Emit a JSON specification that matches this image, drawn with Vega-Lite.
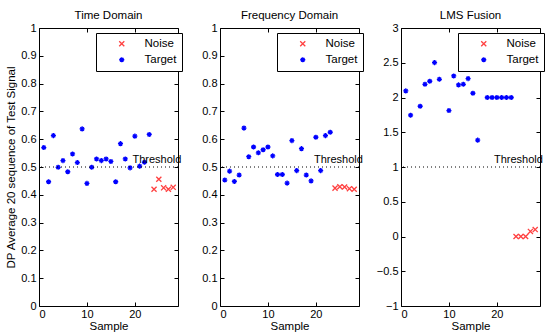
{
  "$schema": "https://vega.github.io/schema/vega-lite/v6.json",
  "padding": {"left": 5, "top": 9, "right": 0, "bottom": 0},
  "spacing": 42,
  "bounds": "flush",
  "background": "white",
  "config": {
    "font": "Liberation Sans",
    "view": {"stroke": "black", "strokeWidth": 1},
    "axis": {"grid": false, "domain": false, "tickColor": "black", "tickSize": -4, "labelPadding": 7, "labelFontSize": 11, "labelColor": "black", "titleFontSize": 11.5, "titleFontWeight": "normal", "titleColor": "black", "labelFont": "Liberation Sans", "titleFont": "Liberation Sans"},
    "axisBottom": {"labelPadding": 6, "titlePadding": 1},
    "title": {"fontSize": 11.5, "fontWeight": "normal", "font": "Liberation Sans", "color": "black", "offset": 1},
    "legend": {"orient": "none", "legendX": 57, "legendY": 5, "strokeColor": "black", "fillColor": "white", "padding": 5, "symbolOffset": 15, "labelOffset": 17, "labelFontSize": 11.5, "labelColor": "black", "rowPadding": 3, "symbolSize": 26, "symbolStrokeWidth": 1.3, "title": null}
  },
  "datasets": {
    "pts": [
      {"panel": "Time Domain", "x": 1, "y": 0.570, "type": "Target"},
      {"panel": "Time Domain", "x": 2, "y": 0.447, "type": "Target"},
      {"panel": "Time Domain", "x": 3, "y": 0.613, "type": "Target"},
      {"panel": "Time Domain", "x": 4, "y": 0.499, "type": "Target"},
      {"panel": "Time Domain", "x": 5, "y": 0.523, "type": "Target"},
      {"panel": "Time Domain", "x": 6, "y": 0.483, "type": "Target"},
      {"panel": "Time Domain", "x": 7, "y": 0.547, "type": "Target"},
      {"panel": "Time Domain", "x": 8, "y": 0.516, "type": "Target"},
      {"panel": "Time Domain", "x": 9, "y": 0.637, "type": "Target"},
      {"panel": "Time Domain", "x": 10, "y": 0.441, "type": "Target"},
      {"panel": "Time Domain", "x": 11, "y": 0.499, "type": "Target"},
      {"panel": "Time Domain", "x": 12, "y": 0.529, "type": "Target"},
      {"panel": "Time Domain", "x": 13, "y": 0.523, "type": "Target"},
      {"panel": "Time Domain", "x": 14, "y": 0.529, "type": "Target"},
      {"panel": "Time Domain", "x": 15, "y": 0.520, "type": "Target"},
      {"panel": "Time Domain", "x": 16, "y": 0.447, "type": "Target"},
      {"panel": "Time Domain", "x": 17, "y": 0.584, "type": "Target"},
      {"panel": "Time Domain", "x": 18, "y": 0.529, "type": "Target"},
      {"panel": "Time Domain", "x": 19, "y": 0.497, "type": "Target"},
      {"panel": "Time Domain", "x": 20, "y": 0.611, "type": "Target"},
      {"panel": "Time Domain", "x": 21, "y": 0.503, "type": "Target"},
      {"panel": "Time Domain", "x": 22, "y": 0.517, "type": "Target"},
      {"panel": "Time Domain", "x": 23, "y": 0.617, "type": "Target"},
      {"panel": "Time Domain", "x": 24, "y": 0.420, "type": "Noise"},
      {"panel": "Time Domain", "x": 25, "y": 0.456, "type": "Noise"},
      {"panel": "Time Domain", "x": 26, "y": 0.425, "type": "Noise"},
      {"panel": "Time Domain", "x": 27, "y": 0.420, "type": "Noise"},
      {"panel": "Time Domain", "x": 28, "y": 0.427, "type": "Noise"},
      {"panel": "Frequency Domain", "x": 1, "y": 0.453, "type": "Target"},
      {"panel": "Frequency Domain", "x": 2, "y": 0.485, "type": "Target"},
      {"panel": "Frequency Domain", "x": 3, "y": 0.448, "type": "Target"},
      {"panel": "Frequency Domain", "x": 4, "y": 0.471, "type": "Target"},
      {"panel": "Frequency Domain", "x": 5, "y": 0.640, "type": "Target"},
      {"panel": "Frequency Domain", "x": 6, "y": 0.537, "type": "Target"},
      {"panel": "Frequency Domain", "x": 7, "y": 0.572, "type": "Target"},
      {"panel": "Frequency Domain", "x": 8, "y": 0.551, "type": "Target"},
      {"panel": "Frequency Domain", "x": 9, "y": 0.562, "type": "Target"},
      {"panel": "Frequency Domain", "x": 10, "y": 0.572, "type": "Target"},
      {"panel": "Frequency Domain", "x": 11, "y": 0.540, "type": "Target"},
      {"panel": "Frequency Domain", "x": 12, "y": 0.473, "type": "Target"},
      {"panel": "Frequency Domain", "x": 13, "y": 0.473, "type": "Target"},
      {"panel": "Frequency Domain", "x": 14, "y": 0.442, "type": "Target"},
      {"panel": "Frequency Domain", "x": 15, "y": 0.595, "type": "Target"},
      {"panel": "Frequency Domain", "x": 16, "y": 0.487, "type": "Target"},
      {"panel": "Frequency Domain", "x": 17, "y": 0.566, "type": "Target"},
      {"panel": "Frequency Domain", "x": 18, "y": 0.471, "type": "Target"},
      {"panel": "Frequency Domain", "x": 19, "y": 0.450, "type": "Target"},
      {"panel": "Frequency Domain", "x": 20, "y": 0.607, "type": "Target"},
      {"panel": "Frequency Domain", "x": 21, "y": 0.487, "type": "Target"},
      {"panel": "Frequency Domain", "x": 22, "y": 0.613, "type": "Target"},
      {"panel": "Frequency Domain", "x": 23, "y": 0.625, "type": "Target"},
      {"panel": "Frequency Domain", "x": 24, "y": 0.424, "type": "Noise"},
      {"panel": "Frequency Domain", "x": 25, "y": 0.429, "type": "Noise"},
      {"panel": "Frequency Domain", "x": 26, "y": 0.428, "type": "Noise"},
      {"panel": "Frequency Domain", "x": 27, "y": 0.422, "type": "Noise"},
      {"panel": "Frequency Domain", "x": 28, "y": 0.420, "type": "Noise"},
      {"panel": "LMS Fusion", "x": 1, "y": 2.095, "type": "Target"},
      {"panel": "LMS Fusion", "x": 2, "y": 1.745, "type": "Target"},
      {"panel": "LMS Fusion", "x": 4, "y": 1.874, "type": "Target"},
      {"panel": "LMS Fusion", "x": 5, "y": 2.190, "type": "Target"},
      {"panel": "LMS Fusion", "x": 6, "y": 2.234, "type": "Target"},
      {"panel": "LMS Fusion", "x": 7, "y": 2.502, "type": "Target"},
      {"panel": "LMS Fusion", "x": 8, "y": 2.262, "type": "Target"},
      {"panel": "LMS Fusion", "x": 10, "y": 1.812, "type": "Target"},
      {"panel": "LMS Fusion", "x": 11, "y": 2.310, "type": "Target"},
      {"panel": "LMS Fusion", "x": 12, "y": 2.181, "type": "Target"},
      {"panel": "LMS Fusion", "x": 13, "y": 2.190, "type": "Target"},
      {"panel": "LMS Fusion", "x": 14, "y": 2.272, "type": "Target"},
      {"panel": "LMS Fusion", "x": 15, "y": 2.061, "type": "Target"},
      {"panel": "LMS Fusion", "x": 16, "y": 1.386, "type": "Target"},
      {"panel": "LMS Fusion", "x": 18, "y": 2.0, "type": "Target"},
      {"panel": "LMS Fusion", "x": 19, "y": 2.0, "type": "Target"},
      {"panel": "LMS Fusion", "x": 20, "y": 2.0, "type": "Target"},
      {"panel": "LMS Fusion", "x": 21, "y": 2.0, "type": "Target"},
      {"panel": "LMS Fusion", "x": 22, "y": 2.0, "type": "Target"},
      {"panel": "LMS Fusion", "x": 23, "y": 2.0, "type": "Target"},
      {"panel": "LMS Fusion", "x": 24, "y": 0.0, "type": "Noise"},
      {"panel": "LMS Fusion", "x": 25, "y": 0.0, "type": "Noise"},
      {"panel": "LMS Fusion", "x": 26, "y": 0.0, "type": "Noise"},
      {"panel": "LMS Fusion", "x": 27, "y": 0.073, "type": "Noise"},
      {"panel": "LMS Fusion", "x": 28, "y": 0.10, "type": "Noise"}
    ],
    "thr": [
      {"panel": "Time Domain", "t": 0.5, "tx": 19.5, "label": "Threshold"},
      {"panel": "Frequency Domain", "t": 0.5, "tx": 19.6, "label": "Threshold"},
      {"panel": "LMS Fusion", "t": 1, "tx": 19.4, "label": "Threshold"}
    ]
  },
  "hconcat": [
    {
      "width": 139, "height": 278,
      "title": "Time Domain",
      "layer": [
        {
          "data": {"name": "pts"},
          "transform": [{"filter": "datum.panel === 'Time Domain'"}],
          "mark": {"type": "point", "filled": false, "strokeWidth": 1.3, "opacity": 1, "size": 26},
          "encoding": {
            "x": {"field": "x", "type": "quantitative", "scale": {"domain": [0, 29], "nice": false, "zero": false}, "axis": {"orient": "bottom", "values": [0, 10, 20], "title": "Sample", "format": "d"}},
            "y": {"field": "y", "type": "quantitative", "scale": {"domain": [0, 1], "nice": false, "zero": false}, "axis": {"orient": "left", "values": [0, 0.1, 0.2, 0.3, 0.4, 0.5, 0.6, 0.7, 0.8, 0.9, 1], "format": "~g", "title": "DP Average 20 sequence of Test Signal", "titlePadding": 4}},
            "color": {"field": "type", "type": "nominal", "scale": {"domain": ["Noise", "Target"], "range": ["#ff4040", "#0000ff"]}, "legend": {"title": null}},
            "shape": {"field": "type", "type": "nominal", "scale": {"domain": ["Noise", "Target"], "range": ["M-1,-1L1,1M1,-1L-1,1", "M-1,0L1,0M0,-1L0,1M-0.7,-0.7L0.7,0.7M0.7,-0.7L-0.7,0.7"]}, "legend": {"title": null}}
          }
        },
        {
          "data": {"name": "thr"},
          "transform": [{"filter": "datum.panel === 'Time Domain'"}],
          "mark": {"type": "rule", "strokeDash": [1, 3], "color": "black", "strokeWidth": 1},
          "encoding": {"y": {"field": "t", "type": "quantitative", "axis": null}}
        },
        {
          "data": {"name": "thr"},
          "transform": [{"filter": "datum.panel === 'Time Domain'"}],
          "mark": {"type": "text", "align": "left", "baseline": "middle", "dy": -7, "fontSize": 11, "color": "black"},
          "encoding": {
            "x": {"field": "tx", "type": "quantitative", "axis": {"orient": "top", "values": [0, 10, 20], "labels": false, "labelPadding": 0, "title": null}},
            "y": {"field": "t", "type": "quantitative", "axis": {"orient": "right", "values": [0, 0.1, 0.2, 0.3, 0.4, 0.5, 0.6, 0.7, 0.8, 0.9, 1], "labels": false, "labelPadding": 0, "title": null}},
            "text": {"field": "label"}
          }
        }
      ],
      "resolve": {"axis": {"x": "independent", "y": "independent"}}
    },
    {
      "width": 139, "height": 278,
      "title": "Frequency Domain",
      "layer": [
        {
          "data": {"name": "pts"},
          "transform": [{"filter": "datum.panel === 'Frequency Domain'"}],
          "mark": {"type": "point", "filled": false, "strokeWidth": 1.3, "opacity": 1, "size": 26},
          "encoding": {
            "x": {"field": "x", "type": "quantitative", "scale": {"domain": [0, 29], "nice": false, "zero": false}, "axis": {"orient": "bottom", "values": [0, 10, 20], "title": "Sample", "format": "d"}},
            "y": {"field": "y", "type": "quantitative", "scale": {"domain": [0, 1], "nice": false, "zero": false}, "axis": {"orient": "left", "values": [0, 0.1, 0.2, 0.3, 0.4, 0.5, 0.6, 0.7, 0.8, 0.9, 1], "format": "~g", "title": null}},
            "color": {"field": "type", "type": "nominal", "scale": {"domain": ["Noise", "Target"], "range": ["#ff4040", "#0000ff"]}, "legend": {"title": null}},
            "shape": {"field": "type", "type": "nominal", "scale": {"domain": ["Noise", "Target"], "range": ["M-1,-1L1,1M1,-1L-1,1", "M-1,0L1,0M0,-1L0,1M-0.7,-0.7L0.7,0.7M0.7,-0.7L-0.7,0.7"]}, "legend": {"title": null}}
          }
        },
        {
          "data": {"name": "thr"},
          "transform": [{"filter": "datum.panel === 'Frequency Domain'"}],
          "mark": {"type": "rule", "strokeDash": [1, 3], "color": "black", "strokeWidth": 1},
          "encoding": {"y": {"field": "t", "type": "quantitative", "axis": null}}
        },
        {
          "data": {"name": "thr"},
          "transform": [{"filter": "datum.panel === 'Frequency Domain'"}],
          "mark": {"type": "text", "align": "left", "baseline": "middle", "dy": -7, "fontSize": 11, "color": "black"},
          "encoding": {
            "x": {"field": "tx", "type": "quantitative", "axis": {"orient": "top", "values": [0, 10, 20], "labels": false, "labelPadding": 0, "title": null}},
            "y": {"field": "t", "type": "quantitative", "axis": {"orient": "right", "values": [0, 0.1, 0.2, 0.3, 0.4, 0.5, 0.6, 0.7, 0.8, 0.9, 1], "labels": false, "labelPadding": 0, "title": null}},
            "text": {"field": "label"}
          }
        }
      ],
      "resolve": {"axis": {"x": "independent", "y": "independent"}}
    },
    {
      "width": 139, "height": 278,
      "title": "LMS Fusion",
      "layer": [
        {
          "data": {"name": "pts"},
          "transform": [{"filter": "datum.panel === 'LMS Fusion'"}],
          "mark": {"type": "point", "filled": false, "strokeWidth": 1.3, "opacity": 1, "size": 26},
          "encoding": {
            "x": {"field": "x", "type": "quantitative", "scale": {"domain": [0, 29], "nice": false, "zero": false}, "axis": {"orient": "bottom", "values": [0, 10, 20], "title": "Sample", "format": "d"}},
            "y": {"field": "y", "type": "quantitative", "scale": {"domain": [-1, 3], "nice": false, "zero": false}, "axis": {"orient": "left", "values": [-1, -0.5, 0, 0.5, 1, 1.5, 2, 2.5, 3], "format": "~g", "title": null}},
            "color": {"field": "type", "type": "nominal", "scale": {"domain": ["Noise", "Target"], "range": ["#ff4040", "#0000ff"]}, "legend": {"title": null}},
            "shape": {"field": "type", "type": "nominal", "scale": {"domain": ["Noise", "Target"], "range": ["M-1,-1L1,1M1,-1L-1,1", "M-1,0L1,0M0,-1L0,1M-0.7,-0.7L0.7,0.7M0.7,-0.7L-0.7,0.7"]}, "legend": {"title": null}}
          }
        },
        {
          "data": {"name": "thr"},
          "transform": [{"filter": "datum.panel === 'LMS Fusion'"}],
          "mark": {"type": "rule", "strokeDash": [1, 3], "color": "black", "strokeWidth": 1},
          "encoding": {"y": {"field": "t", "type": "quantitative", "axis": null}}
        },
        {
          "data": {"name": "thr"},
          "transform": [{"filter": "datum.panel === 'LMS Fusion'"}],
          "mark": {"type": "text", "align": "left", "baseline": "middle", "dy": -7, "fontSize": 11, "color": "black"},
          "encoding": {
            "x": {"field": "tx", "type": "quantitative", "axis": {"orient": "top", "values": [0, 10, 20], "labels": false, "labelPadding": 0, "title": null}},
            "y": {"field": "t", "type": "quantitative", "axis": {"orient": "right", "values": [-1, -0.5, 0, 0.5, 1, 1.5, 2, 2.5, 3], "labels": false, "labelPadding": 0, "title": null}},
            "text": {"field": "label"}
          }
        }
      ],
      "resolve": {"axis": {"x": "independent", "y": "independent"}}
    }
  ],
  "resolve": {"legend": {"color": "independent", "shape": "independent"}}
}
